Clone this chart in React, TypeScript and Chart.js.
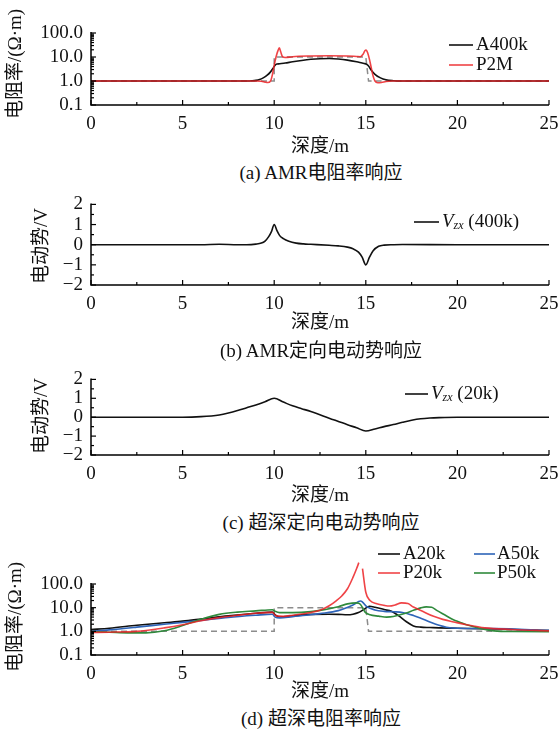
import React, { useEffect, useRef } from 'react';
import { Chart, registerables } from 'chart.js';

Chart.register(...registerables);

const FAMILY = "'Liberation Serif', 'Noto Sans CJK SC', serif";

// ---------- tick definitions ----------
const depthTicks = [0, 5, 10, 15, 20, 25];
const depthMinorTicks = [2.5, 7.5, 12.5, 17.5, 22.5];
const logTicks = [0.1, 1, 10, 100];
const logTickLabels = ['0.1', '1.0', '10.0', '100.0'];
const logMinorTicks = [0.2, 0.3, 0.4, 0.5, 0.6, 0.7, 0.8, 0.9, 2, 3, 4, 5, 6, 7, 8, 9, 20, 30, 40, 50, 60, 70, 80, 90];
const vTicks = [-2, -1, 0, 1, 2];
const vTickLabels = ['\u22122', '\u22121', '0', '1', '2'];
const vMinorTicks = [-1.5, -0.5, 0.5, 1.5];

// ---------- model (true resistivity) ----------
const modelDepth = [0, 10, 10, 15, 15.15, 25];
const modelRes = [1, 1, 10, 10, 1, 1];

// ---------- (a) AMR resistivity ----------
const aA400kDepth = [0, 8.5, 8.8, 9.0, 9.2, 9.4, 9.6, 9.8, 9.95, 10.05, 10.15, 10.3, 10.6, 11, 11.5, 12, 12.5, 13, 13.5, 14, 14.5, 14.8, 14.95, 15.05, 15.15, 15.3, 15.5, 15.8, 16.1, 16.5, 17, 25];
const aA400k = [1, 1, 1.02, 1.06, 1.15, 1.35, 1.7, 2.4, 3.5, 4.6, 5.1, 5.2, 5.6, 6.3, 7.2, 8.0, 8.5, 8.6, 8.2, 7.4, 6.3, 5.6, 5.3, 4.9, 4.2, 2.8, 1.9, 1.35, 1.12, 1.03, 1, 1];
const aP2MDepth = [0, 9.0, 9.3, 9.5, 9.65, 9.8, 9.9, 10.0, 10.1, 10.2, 10.28, 10.36, 10.45, 10.6, 11, 12, 13, 14, 14.5, 14.7, 14.85, 14.95, 15.02, 15.1, 15.2, 15.3, 15.4, 15.5, 15.65, 15.85, 16.1, 16.4, 25];
const aP2M = [1, 1, 0.97, 0.9, 0.86, 1.0, 1.8, 4.5, 10, 18, 24, 16, 10.5, 9.5, 10.3, 11, 11.2, 11, 10.5, 10.3, 13, 18, 19.5, 15, 8, 3.5, 1.6, 1.0, 0.85, 0.87, 0.95, 1, 1];

// ---------- (b) AMR directional EMF ----------
const bDepth = [0, 6, 7, 8, 8.5, 9, 9.3, 9.5, 9.7, 9.85, 10, 10.15, 10.3, 10.5, 10.8, 11.2, 11.6, 12, 13, 13.5, 14, 14.3, 14.6, 14.8, 15, 15.2, 15.4, 15.7, 16, 16.5, 17, 20, 25];
const bVzx400k = [0, 0, 0.02, 0, 0, 0.03, 0.08, 0.18, 0.4, 0.65, 1.0, 0.7, 0.45, 0.3, 0.17, 0.08, 0.04, 0.02, -0.03, -0.06, -0.12, -0.2, -0.37, -0.62, -1.0, -0.62, -0.3, -0.08, -0.02, 0, 0.01, 0, 0];

// ---------- (c) ultra-deep directional EMF ----------
const cDepth = [0, 4, 5, 6, 7, 7.5, 8, 8.5, 9, 9.5, 10, 10.5, 11, 11.5, 12, 13, 14, 14.5, 15, 15.5, 16, 16.5, 17, 17.5, 18, 18.5, 19, 20, 21, 25];
const cVzx20k = [0, 0, 0, 0.03, 0.12, 0.22, 0.35, 0.5, 0.65, 0.82, 1.0, 0.8, 0.6, 0.45, 0.3, -0.05, -0.4, -0.56, -0.73, -0.62, -0.5, -0.39, -0.27, -0.16, -0.08, -0.04, -0.02, 0, 0, 0];

// ---------- (d) ultra-deep resistivity ----------
const dA20kDepth = [0, 1, 2.5, 4, 5, 6, 7.5, 9, 9.9, 10.05, 10.3, 11, 12, 13, 13.5, 14, 14.3, 14.6, 14.9, 15.2, 15.5, 16, 16.4, 16.8, 17.2, 17.6, 18, 18.5, 19, 20, 22, 25];
const dA20k = [1.2, 1.35, 1.8, 2.3, 2.7, 3.3, 4.5, 5.8, 6.5, 5.0, 4.0, 4.5, 5.2, 5.3, 5.2, 5.0, 5.3, 6.2, 8.5, 11.5, 10.5, 8.3, 7.0, 4.5, 2.6, 1.7, 1.5, 1.45, 1.4, 1.35, 1.25, 1.08];
const dA50kDepth = [0, 1, 2.5, 4, 5, 6, 7.5, 9, 9.9, 10.05, 10.3, 11, 12, 12.5, 13.5, 14.3, 14.72, 15.05, 15.5, 16, 16.5, 17, 17.6, 18, 18.5, 19, 19.4, 20, 22, 25];
const dA50k = [1.0, 1.15, 1.5, 2.0, 2.4, 2.9, 3.9, 4.8, 5.3, 4.0, 3.7, 4.2, 5.0, 5.6, 7.5, 13, 19, 11, 8.0, 7.0, 6.7, 6.3, 4.7, 3.6, 2.5, 1.8, 1.5, 1.35, 1.3, 1.1];
const dP20kDepth = [0, 1, 2.5, 4, 5, 6, 7, 8, 9, 9.9, 10.1, 10.5, 11, 12, 12.5, 13, 13.4, 13.7, 14.0, 14.3, 14.5, 14.62, 14.72, 14.82, 15.0, 15.23, 15.6, 16.0, 16.3, 16.6, 16.95, 17.3, 17.6, 18.1, 18.7, 19.2, 19.8, 20.5, 21.5, 23, 25];
const dP20k = [0.9, 0.92, 1.0, 1.4, 1.9, 2.8, 3.8, 4.8, 5.8, 6.3, 4.5, 4.3, 4.8, 6.3, 7.7, 12, 20, 32, 63, 190, 450, 800, null, 450, 45, 20, 14.7, 12.5, 11.7, 13, 16, 15, 10.6, 7, 4.3, 3.2, 2.5, 1.9, 1.4, 1.2, 1.05];
const dP50kDepth = [0, 1, 2, 3, 4, 5, 6, 7, 8, 9, 9.9, 10.05, 10.3, 11, 12, 12.5, 13.5, 14, 14.5, 14.7, 14.96, 15.23, 15.7, 16.14, 16.5, 16.87, 17.3, 17.6, 18, 18.3, 18.6, 18.87, 19.3, 19.78, 20.1, 20.6, 21.2, 22, 23, 25];
const dP50k = [0.97, 0.92, 0.86, 0.86, 1.05, 1.75, 3.2, 5.2, 6.5, 7.3, 8.2, 7.0, 6.2, 6.2, 6.8, 7.7, 11, 14.5, 16, 14, 6.5, 5.0, 4.4, 4.0, 4.2, 5.0, 6.3, 7.7, 9.8, 10.8, 10.4, 7.7, 5, 3.1, 2.5, 1.8, 1.35, 1.05, 0.98, 0.97];

const BLACK = '#111111';
const RED = 'rgba(236, 34, 38, 0.85)';
const BLUE = '#2e64b8';
const GREEN = '#2f8a3c';
const GRAY = '#8c8c8c';

const zip = (xs: number[], ys: (number | null)[]) => xs.map((x, i) => ({ x, y: ys[i] }));

type LegendPart = { text: string; italic?: boolean; size?: number; dy?: number };
type LegendItem = { color: string; x1: number; x2: number; y: number; tx: number; parts: LegendPart[] };

type PanelCfg = {
  top: number;
  height: number;
  plotTop: number;
  plotBottom: number;
  log: boolean;
  datasets: any[];
  yTitle: string;
  yTitleX: number;
  yTitleY: number;
  xTitleY: number;
  legend: LegendItem[];
};

const line = (ctx: CanvasRenderingContext2D, x1: number, y1: number, x2: number, y2: number) => {
  ctx.beginPath();
  ctx.moveTo(x1, y1);
  ctx.lineTo(x2, y2);
  ctx.stroke();
};

function makeDecor(cfg: PanelCfg) {
  return {
    id: 'decor',
    afterDraw(chart: any) {
      const { ctx, chartArea: ca, scales } = chart;
      const xs = scales.x;
      const ys = scales.y;
      ctx.save();
      ctx.strokeStyle = '#000';
      ctx.lineWidth = 1.5;
      ctx.beginPath();
      ctx.moveTo(ca.left, ca.top - 1);
      ctx.lineTo(ca.left, ca.bottom);
      ctx.lineTo(ca.right, ca.bottom);
      ctx.stroke();
      ctx.lineWidth = 1.2;
      for (const v of depthTicks) { const p = xs.getPixelForValue(v); line(ctx, p, ca.bottom, p, ca.bottom - 5); }
      for (const v of depthMinorTicks) { const p = xs.getPixelForValue(v); line(ctx, p, ca.bottom, p, ca.bottom - 3); }
      const major = cfg.log ? logTicks : vTicks;
      const minor = cfg.log ? logMinorTicks : vMinorTicks;
      for (const v of major) { const p = ys.getPixelForValue(v); line(ctx, ca.left, p, ca.left + 5, p); }
      for (const v of minor) { const p = ys.getPixelForValue(v); line(ctx, ca.left, p, ca.left + 3, p); }

      // titles
      ctx.fillStyle = '#111';
      ctx.textBaseline = 'middle';
      ctx.textAlign = 'center';
      ctx.font = `19px ${FAMILY}`;
      ctx.fillText('深度/m', (ca.left + ca.right) / 2, cfg.xTitleY);
      ctx.save();
      ctx.translate(cfg.yTitleX, cfg.yTitleY);
      ctx.rotate(-Math.PI / 2);
      ctx.fillText(cfg.yTitle, 0, 0);
      ctx.restore();

      // legend
      ctx.textAlign = 'left';
      for (const it of cfg.legend) {
        ctx.strokeStyle = it.color;
        ctx.lineWidth = 1.6;
        line(ctx, it.x1, it.y, it.x2, it.y);
        let x = it.tx;
        for (const part of it.parts) {
          const size = part.size ?? 19;
          ctx.font = `${part.italic ? 'italic ' : ''}${size}px ${FAMILY}`;
          ctx.fillStyle = '#111';
          ctx.fillText(part.text, x, it.y + (part.dy ?? 0));
          x += ctx.measureText(part.text).width;
        }
      }
      ctx.restore();
    },
  };
}

function buildConfig(cfg: PanelCfg): any {
  const tickFont = { family: FAMILY, size: 19 };
  return {
    type: 'line',
    data: { datasets: cfg.datasets },
    options: {
      responsive: false,
      maintainAspectRatio: false,
      animation: false,
      events: [],
      layout: { padding: { left: 0, right: 0, top: cfg.plotTop, bottom: 0 } },
      elements: { point: { radius: 0 } },
      plugins: { legend: { display: false }, tooltip: { enabled: false } },
      scales: {
        x: {
          type: 'linear',
          min: 0,
          max: 25,
          afterBuildTicks: (s: any) => { s.ticks = depthTicks.map((value) => ({ value })); },
          afterFit: (s: any) => { s.height = cfg.height - cfg.plotBottom; s.paddingRight = 10; },
          ticks: { font: tickFont, color: '#111', padding: 8, maxRotation: 0, autoSkip: false, callback: (v: number) => String(v) },
          grid: { display: false, drawTicks: false },
          border: { display: false },
        },
        y: cfg.log
          ? {
              type: 'logarithmic',
              min: 0.1,
              max: 100,
              afterBuildTicks: (s: any) => { s.ticks = logTicks.map((value) => ({ value })); },
              afterFit: (s: any) => { s.width = 91; },
              ticks: { font: tickFont, color: '#111', padding: 8, autoSkip: false, callback: (v: number) => logTickLabels[logTicks.indexOf(v)] },
              grid: { display: false, drawTicks: false },
              border: { display: false },
            }
          : {
              type: 'linear',
              min: -2,
              max: 2,
              afterBuildTicks: (s: any) => { s.ticks = vTicks.map((value) => ({ value })); },
              afterFit: (s: any) => { s.width = 91; },
              ticks: { font: tickFont, color: '#111', padding: 8, autoSkip: false, callback: (v: number) => vTickLabels[vTicks.indexOf(v)] },
              grid: { display: false, drawTicks: false },
              border: { display: false },
            },
      },
    },
    plugins: [makeDecor(cfg)],
  };
}

const lineDs = (data: any[], color: string, order: number, extra: any = {}) => ({
  data,
  borderColor: color,
  borderWidth: 1.6,
  pointRadius: 0,
  fill: false,
  cubicInterpolationMode: 'monotone',
  order,
  ...extra,
});

const modelDs = () => lineDs(zip(modelDepth, modelRes), GRAY, 20, { borderDash: [6, 4], borderWidth: 1.5, cubicInterpolationMode: 'default', tension: 0 });

const panels: PanelCfg[] = [
  {
    top: 0, height: 160, plotTop: 33, plotBottom: 105, log: true,
    yTitle: '电阻率/(Ω·m)', yTitleX: 16, yTitleY: 64, xTitleY: 147,
    datasets: [
      modelDs(),
      lineDs(zip(aA400kDepth, aA400k), BLACK, 3),
      lineDs(zip(aP2MDepth, aP2M), RED, 2),
    ],
    legend: [
      { color: BLACK, x1: 449, x2: 473, y: 45, tx: 476, parts: [{ text: 'A400k' }] },
      { color: RED, x1: 449, x2: 473, y: 65, tx: 476, parts: [{ text: 'P2M' }] },
    ],
  },
  {
    top: 185, height: 150, plotTop: 18.5, plotBottom: 100, log: false,
    yTitle: '电动势/V', yTitleX: 42, yTitleY: 61, xTitleY: 138,
    datasets: [lineDs(zip(bDepth, bVzx400k), BLACK, 1)],
    legend: [
      { color: BLACK, x1: 414, x2: 439, y: 37, tx: 442, parts: [{ text: 'V', italic: true }, { text: 'zx', italic: true, size: 12, dy: 4 }, { text: ' (400k)' }] },
    ],
  },
  {
    top: 360, height: 150, plotTop: 15, plotBottom: 95, log: false,
    yTitle: '电动势/V', yTitleX: 42, yTitleY: 56, xTitleY: 136,
    datasets: [lineDs(zip(cDepth, cVzx20k), BLACK, 1)],
    legend: [
      { color: BLACK, x1: 405, x2: 428, y: 34, tx: 431, parts: [{ text: 'V', italic: true }, { text: 'zx', italic: true, size: 12, dy: 4 }, { text: ' (20k)' }] },
    ],
  },
  {
    top: 540, height: 165, plotTop: 44, plotBottom: 115, log: true,
    yTitle: '电阻率/(Ω·m)', yTitleX: 16, yTitleY: 77, xTitleY: 152,
    datasets: [
      modelDs(),
      lineDs(zip(dA20kDepth, dA20k), BLACK, 4),
      lineDs(zip(dA50kDepth, dA50k), BLUE, 3),
      lineDs(zip(dP20kDepth, dP20k), RED, 1, { clip: false, spanGaps: false }),
      lineDs(zip(dP50kDepth, dP50k), GREEN, 2),
    ],
    legend: [
      { color: BLACK, x1: 378, x2: 400, y: 14, tx: 403, parts: [{ text: 'A20k' }] },
      { color: RED, x1: 378, x2: 400, y: 33, tx: 403, parts: [{ text: 'P20k' }] },
      { color: BLUE, x1: 474, x2: 495, y: 14, tx: 497, parts: [{ text: 'A50k' }] },
      { color: GREEN, x1: 474, x2: 495, y: 33, tx: 497, parts: [{ text: 'P50k' }] },
    ],
  },
];

const captions = [
  { text: '(a) AMR电阻率响应', y: 173 },
  { text: '(b) AMR定向电动势响应', y: 351 },
  { text: '(c) 超深定向电动势响应', y: 523 },
  { text: '(d) 超深电阻率响应', y: 719 },
];

function Panel({ cfg }: { cfg: PanelCfg }) {
  const ref = useRef<HTMLCanvasElement | null>(null);
  useEffect(() => {
    if (!ref.current) return;
    const chart = new Chart(ref.current, buildConfig(cfg));
    return () => chart.destroy();
  }, [cfg]);
  return (
    <canvas
      ref={ref}
      width={559}
      height={cfg.height}
      style={{ position: 'absolute', left: 0, top: cfg.top, width: 559, height: cfg.height, display: 'block' }}
    />
  );
}

export default function App() {
  return (
    <div style={{ position: 'absolute', left: 0, top: 0, width: 559, height: 733, background: '#fff', overflow: 'hidden' }}>
      {panels.map((p, i) => (
        <Panel key={i} cfg={p} />
      ))}
      {captions.map((c, i) => (
        <div
          key={i}
          style={{
            position: 'absolute',
            left: 0,
            width: 642,
            top: c.y - 12,
            height: 24,
            lineHeight: '24px',
            textAlign: 'center',
            fontFamily: FAMILY,
            fontSize: 19,
            color: '#111',
            whiteSpace: 'nowrap',
          }}
        >
          {c.text}
        </div>
      ))}
    </div>
  );
}
